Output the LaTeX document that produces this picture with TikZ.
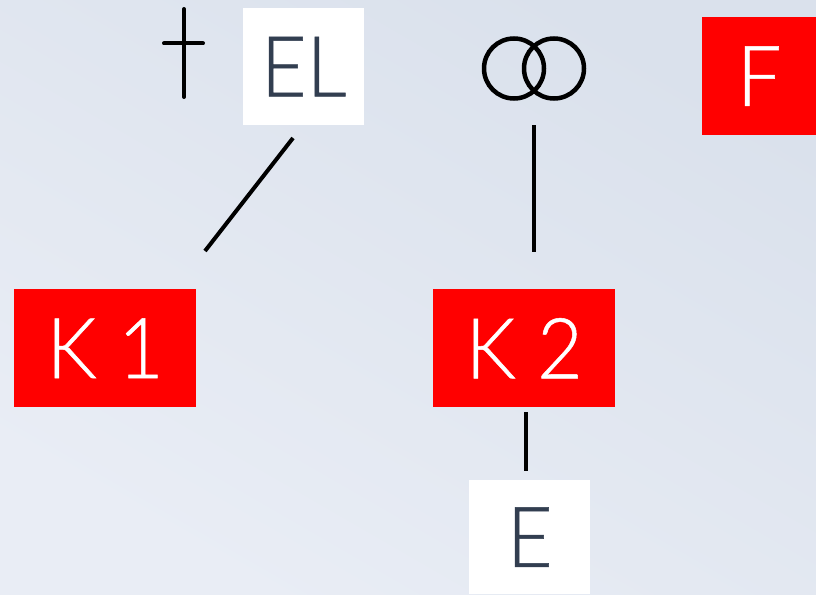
\documentclass[tikz,border=0pt]{standalone}
\usepackage{fontspec}
\setmainfont[FakeStretch=0.94,FakeBold=0.6]{Lato Light}
\definecolor{bgA}{RGB}{233,237,245}
\definecolor{bgB}{RGB}{218,225,236}
\definecolor{ink}{RGB}{50,62,80}
\tikzset{
 whitebox/.style={fill=white,text=ink,minimum width=121pt,minimum height=117pt,inner sep=0pt,font=\fontsize{84}{84}\selectfont},
 redbox/.style={fill=red,text=white,inner sep=0pt,font=\fontsize{84}{84}\selectfont},
 link/.style={line width=4pt,black}
}
\begin{document}
\begin{tikzpicture}[x=1pt,y=-1pt]
\useasboundingbox (0,0) rectangle (816,594);
\shade[shading=axis,left color=bgA,right color=bgB,shading angle=150] (0,0) rectangle (816,594);
\node[whitebox,anchor=north west] (el) at (243,8) {\raisebox{-2pt}{EL}};
\node[redbox,anchor=north west,minimum width=114pt,minimum height=118pt] (f) at (702,17) {\raisebox{-2pt}{F}};
\node[redbox,anchor=north west,minimum width=182pt,minimum height=118pt] (k1) at (14,289) {\raisebox{-2pt}{K 1}};
\node[redbox,anchor=north west,minimum width=182pt,minimum height=118pt] (k2) at (433,289) {\raisebox{-2pt}{K 2}};
\node[whitebox,anchor=north west,minimum height=114pt] (e) at (469,480) {\raisebox{-2pt}{E}};
\coordinate (a1) at (293,138);
\coordinate (a2) at (205,251);
\coordinate (b1) at (533.5,125);
\coordinate (b2) at (533.5,252);
\coordinate (c1) at (525.5,412);
\coordinate (c2) at (525.5,471);
\draw[link] (a1) -- (a2);
\draw[link] (b1) -- (b2);
\draw[link] (c1) -- (c2);
\draw[link,line cap=round] (184,9) -- (184,97);
\draw[link,line cap=round] (164,43.5) -- (203,43.5);
\draw[line width=4.5pt] (514,68.5) circle (30);
\draw[line width=4.5pt] (554,68.5) circle (30);
\end{tikzpicture}
\end{document}
